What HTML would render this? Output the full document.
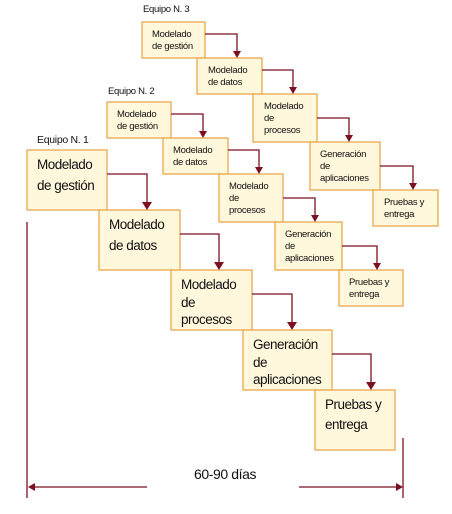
<!DOCTYPE html>
<html><head><meta charset="utf-8"><style>
body{margin:0;background:#fff;}
svg{display:block;font-family:"Liberation Sans",sans-serif;}
.b{fill:#fff8dc;stroke:#e8a040;stroke-width:1.2}
.l{stroke:#7b1020;stroke-width:1.3;fill:none}
.h{fill:#7b1020}
.s{font-size:9.5px;fill:#111;letter-spacing:-0.3px}
.g{font-size:13.5px;fill:#111;letter-spacing:-0.5px}
</style></head><body>
<svg width="452" height="514" viewBox="0 0 452 514">
<!-- Team 3 -->
<text x="143" y="12" class="s">Equipo N. 3</text>
<rect class="b" x="142" y="22" width="63" height="36"/>
<text class="s" x="152" y="37">Modelado</text><text class="s" x="152" y="49">de gestión</text>
<rect class="b" x="197" y="58" width="65" height="36"/>
<text class="s" x="208" y="73">Modelado</text><text class="s" x="208" y="85">de datos</text>
<rect class="b" x="253" y="94" width="64" height="48"/>
<text class="s" x="264" y="109">Modelado</text><text class="s" x="264" y="121">de</text><text class="s" x="264" y="133">procesos</text>
<rect class="b" x="310" y="142" width="70" height="48"/>
<text class="s" x="320" y="157">Generación</text><text class="s" x="320" y="169">de</text><text class="s" x="320" y="181">aplicaciones</text>
<rect class="b" x="373" y="190" width="65" height="36"/>
<text class="s" x="384" y="205">Pruebas y</text><text class="s" x="384" y="217">entrega</text>
<!-- Team 2 -->
<text x="108" y="94" class="s">Equipo N. 2</text>
<rect class="b" x="107" y="102" width="64" height="36"/>
<text class="s" x="117" y="117">Modelado</text><text class="s" x="117" y="129">de gestión</text>
<rect class="b" x="163" y="138" width="65" height="36"/>
<text class="s" x="173" y="153">Modelado</text><text class="s" x="173" y="165">de datos</text>
<rect class="b" x="219" y="174" width="64" height="48"/>
<text class="s" x="229" y="189">Modelado</text><text class="s" x="229" y="201">de</text><text class="s" x="229" y="213">procesos</text>
<rect class="b" x="275" y="222" width="67" height="48"/>
<text class="s" x="285" y="237">Generación</text><text class="s" x="285" y="249">de</text><text class="s" x="285" y="261">aplicaciones</text>
<rect class="b" x="339" y="270" width="64" height="36"/>
<text class="s" x="349" y="285">Pruebas y</text><text class="s" x="349" y="297">entrega</text>
<!-- Team 1 -->
<text x="37" y="143" style="font-size:10.5px;letter-spacing:-0.3px" fill="#111">Equipo N. 1</text>
<rect class="b" x="27" y="150" width="80" height="60"/>
<text class="g" x="37" y="169">Modelado</text><text class="g" x="37" y="190">de gestión</text>
<rect class="b" x="99" y="210" width="81" height="60"/>
<text class="g" x="109" y="229">Modelado</text><text class="g" x="109" y="250">de datos</text>
<rect class="b" x="171" y="270" width="81" height="60"/>
<text class="g" x="181" y="289">Modelado</text><text class="g" x="181" y="307">de</text><text class="g" x="181" y="324">procesos</text>
<rect class="b" x="243" y="330" width="89" height="60"/>
<text class="g" x="253" y="349">Generación</text><text class="g" x="253" y="367">de</text><text class="g" x="253" y="384">aplicaciones</text>
<rect class="b" x="315" y="390" width="80" height="60"/>
<text class="g" x="325" y="409">Pruebas y</text><text class="g" x="325" y="429">entrega</text>
<!-- arrows -->
<path class="l" d="M205 34H237V52"/><path class="h" d="M233 51h8l-4 7z"/>
<path class="l" d="M262 70H293V88"/><path class="h" d="M289 87h8l-4 7z"/>
<path class="l" d="M317 118H349V136"/><path class="h" d="M345 135h8l-4 7z"/>
<path class="l" d="M380 166H413V184"/><path class="h" d="M409 183h8l-4 7z"/>
<path class="l" d="M171 114H203V132"/><path class="h" d="M199 131h8l-4 7z"/>
<path class="l" d="M228 150H259V168"/><path class="h" d="M255 167h8l-4 7z"/>
<path class="l" d="M283 198H315V216"/><path class="h" d="M311 215h8l-4 7z"/>
<path class="l" d="M342 246H377V264"/><path class="h" d="M373 263h8l-4 7z"/>
<path class="l" d="M107 174H147V203"/><path class="h" d="M142 202h10l-5 8z"/>
<path class="l" d="M180 234H219V263"/><path class="h" d="M214 262h10l-5 8z"/>
<path class="l" d="M252 294H292V323"/><path class="h" d="M287 322h10l-5 8z"/>
<path class="l" d="M332 354H371V383"/><path class="h" d="M366 382h10l-5 8z"/>
<!-- timeline -->
<path class="l" d="M27 222V498"/>
<path class="l" d="M403 438V498"/>
<path class="l" d="M147 487H33"/><path class="h" d="M28 487l7-4v8z"/>
<path class="l" d="M299 487H397"/><path class="h" d="M403 487l-7-4v8z"/>
<text x="194" y="479" style="font-size:14px;letter-spacing:-0.4px" fill="#111">60-90 días</text>
</svg>
</body></html>
